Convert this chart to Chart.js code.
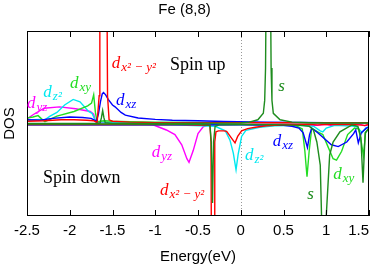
<!DOCTYPE html>
<html>
<head>
<meta charset="utf-8">
<script src="https://cdn.jsdelivr.net/npm/chart.js@4.4.0/dist/chart.umd.min.js"></script>
<style>
  html, body { margin: 0; padding: 0; background: #fff; }
</style>
</head>
<body>
<canvas id="dos" width="374" height="268"></canvas>
<script>
// x axis ticks
const xTickValues = [-2.5, -2, -1.5, -1, -0.5, 0, 0.5, 1, 1.5];
const xTickLabels = ["-2.5", "-2", "-1.5", "-1", "-0.5", "0", "0.5", "1", "1.5"];

// --- spin up (positive DOS) ---
const eUpS = [-2.5, -1.7, -1.645, -1.63, -1.615, -1.6, -1.585, -1.5, -1.0, -0.5, 0, 0.1, 0.2, 0.264, 0.28, 0.29, 0.298, 0.347, 0.355, 0.365, 0.381, 0.46, 0.6, 0.8, 1.0, 1.5];
const upS = [0, 0, 0.005, 0.06, 0.14, 0.06, 0.01, 0, 0, 0.002, 0.005, 0.015, 0.04, 0.11, 0.25, 0.6, 1.6, 1.6, 0.6, 0.25, 0.11, 0.04, 0.015, 0.008, 0.005, 0.005];

const eUpDx2 = [-2.5, -2.3, -2.1, -1.95, -1.8, -1.72, -1.68, -1.656, -1.648, -1.566, -1.558, -1.54, -1.5, -1.3, -1.0, -0.5, 0, 0.5, 1.0, 1.5];
const upDx2 = [0.025, 0.03, 0.04, 0.04, 0.035, 0.03, 0.01, 0.3, 1.6, 1.6, 0.3, 0.04, 0.025, 0.015, 0.01, 0.01, 0.01, 0.008, 0.01, 0.01];

const eUpDxz = [-2.5, -2.35, -2.2, -2.0, -1.85, -1.75, -1.69, -1.665, -1.64, -1.62, -1.605, -1.58, -1.55, -1.5, -1.47, -1.4, -1.35, -1.2, -1.0, -0.8, -0.5, -0.2, 0.3, 0.7, 1.0, 1.5];
const upDxz = [0.04, 0.035, 0.055, 0.07, 0.065, 0.055, 0.025, 0.1, 0.24, 0.32, 0.335, 0.31, 0.26, 0.2, 0.18, 0.12, 0.09, 0.06, 0.045, 0.035, 0.03, 0.022, 0.015, 0.012, 0.01, 0.01];

const eUpDxy = [-2.5, -2.43, -2.37, -2.33, -2.29, -2.15, -1.95, -1.79, -1.745, -1.72, -1.70, -1.68, -1.6, -1.5, -1.3, -1.0, -0.5, 0, 0.5, 1.0, 1.5];
const upDxy = [0.06, 0.07, 0.085, 0.05, 0.02, 0.08, 0.13, 0.19, 0.22, 0.31, 0.12, 0.02, 0.03, 0.025, 0.02, 0.015, 0.012, 0.01, 0.01, 0.01, 0.01];

const eUpDz2 = [-2.5, -2.42, -2.36, -2.3, -2.23, -2.15, -2.06, -1.96, -1.88, -1.78, -1.74, -1.71, -1.68, -1.6, -1.4, -1.0, -0.5, 0, 0.5, 1.0, 1.5];
const upDz2 = [0.03, 0.04, 0.045, 0.035, 0.08, 0.12, 0.2, 0.26, 0.235, 0.13, 0.11, 0.05, 0.02, 0.015, 0.012, 0.01, 0.01, 0.01, 0.01, 0.01, 0.01];

const eUpDyz = [-2.5, -2.42, -2.3, -2.12, -1.93, -1.76, -1.72, -1.7, -1.65, -1.5, -1.0, -0.5, 0, 0.5, 1.0, 1.5];
const upDyz = [0.05, 0.1, 0.165, 0.18, 0.16, 0.13, 0.1, 0.02, 0.01, 0.012, 0.01, 0.01, 0.01, 0.01, 0.01, 0.01];

// --- spin down (negative DOS) ---
const eDnS = [-2.5, -1.5, -0.5, -0.36, -0.345, -0.33, -0.318, -0.30, -0.25, 0, 0.3, 0.5, 0.7, 0.8, 0.85, 0.89, 0.93, 0.945, 0.952, 0.992, 1.0, 1.04, 1.08, 1.16, 1.3, 1.37, 1.405, 1.43, 1.455, 1.5];
const dnS = [-0.005, -0.005, -0.008, -0.02, -0.2, -0.86, -0.2, -0.03, -0.015, -0.012, -0.012, -0.015, -0.02, -0.03, -0.07, -0.2, -0.45, -1.0, -1.6, -1.6, -1.0, -0.34, -0.2, -0.09, -0.016, -0.03, -0.15, -0.64, -0.1, -0.05];

const eDnDx2 = [-2.5, -1.5, -0.8, -0.36, -0.348, -0.342, -0.31, -0.304, -0.29, -0.26, -0.2, -0.165, -0.106, -0.067, -0.036, 0.01, 0.08, 0.17, 0.3, 0.5, 0.8, 0.9, 1.0, 1.3, 1.45, 1.5];
const dnDx2 = [-0.01, -0.01, -0.01, -0.02, -0.2, -1.6, -1.6, -0.2, -0.09, -0.08, -0.08, -0.085, -0.16, -0.21, -0.14, -0.08, -0.055, -0.04, -0.025, -0.015, -0.01, -0.015, -0.01, -0.01, -0.02, -0.01];

const eDnDxz = [-2.5, -1.5, -0.5, 0, 0.5, 0.6, 0.68, 0.73, 0.755, 0.78, 0.805, 0.83, 0.9, 0.95, 1.06, 1.14, 1.24, 1.32, 1.345, 1.375, 1.41, 1.47, 1.5];
const dnDxz = [-0.015, -0.015, -0.015, -0.015, -0.02, -0.03, -0.05, -0.1, -0.18, -0.26, -0.12, -0.05, -0.1, -0.14, -0.23, -0.25, -0.2, -0.11, -0.07, -0.21, -0.1, -0.05, -0.04];

const eDnDxy = [-2.5, -1.5, -0.5, 0, 0.5, 0.65, 0.72, 0.75, 0.775, 0.80, 0.83, 0.9, 0.96, 1.02, 1.08, 1.12, 1.18, 1.25, 1.33, 1.38, 1.41, 1.435, 1.46, 1.5];
const dnDxy = [-0.01, -0.01, -0.01, -0.01, -0.015, -0.025, -0.06, -0.3, -0.575, -0.3, -0.05, -0.09, -0.12, -0.25, -0.38, -0.395, -0.3, -0.12, -0.05, -0.06, -0.2, -0.35, -0.1, -0.05];

const eDnDz2 = [-2.5, -1.5, -0.8, -0.3, -0.18, -0.126, -0.087, -0.055, -0.03, 0.01, 0.06, 0.22, 0.4, 0.7, 0.85, 0.93, 0.96, 1.0, 1.1, 1.35, 1.42, 1.46, 1.5];
const dnDz2 = [-0.01, -0.01, -0.015, -0.03, -0.08, -0.18, -0.32, -0.5, -0.33, -0.14, -0.075, -0.04, -0.025, -0.02, -0.03, -0.08, -0.09, -0.05, -0.02, -0.03, -0.1, -0.05, -0.03];

const eDnDyz = [-2.5, -1.5, -1.1, -1.02, -0.87, -0.77, -0.69, -0.63, -0.605, -0.555, -0.5, -0.44, -0.38, 0, 0.5, 0.7, 0.8, 0.9, 1.0, 1.05, 1.4, 1.45, 1.5];
const dnDyz = [-0.01, -0.01, -0.012, -0.016, -0.07, -0.12, -0.23, -0.38, -0.42, -0.29, -0.11, -0.035, -0.015, -0.01, -0.01, -0.01, -0.02, -0.02, -0.01, -0.02, -0.01, -0.025, -0.01];

const colS = "#1e8c1e";
const colDx2 = "#ff0000";
const colDxz = "#0000ff";
const colDxy = "#22dd22";
const colDz2 = "#00e8f0";
const colDyz = "#ff00ff";

// orbital labels: [energy, dos, main, subscript, colour]
const labels = [
  [-1.509, 0.595, "d", "x\u00b2 \u2212 y\u00b2", colDx2],
  [-1.459, 0.2, "d", "xz", colDxz],
  [-1.997, 0.38, "d", "xy", colDxy],
  [-2.309, 0.29, "d", "z\u00b2", colDz2],
  [-2.5, 0.165, "d", "yz", colDyz],
  [0.44, 0.351, "s", "", colS],
  [-1.042, -0.359, "d", "yz", colDyz],
  [-0.944, -0.773, "d", "x\u00b2 \u2212 y\u00b2", colDx2],
  [0.05, -0.395, "d", "z\u00b2", colDz2],
  [0.374, -0.243, "d", "xz", colDxz],
  [1.082, -0.603, "d", "xy", colDxy],
  [0.778, -0.816, "s", "", colS],
];
const spinText = [
  [-0.827, 0.578, "Spin up"],
  [-2.313, -0.646, "Spin down"],
];

function pts(xs, ys) {
  return xs.map((x, i) => ({ x: x, y: ys[i] }));
}
function line(xs, ys, color) {
  return {
    data: pts(xs, ys),
    borderColor: color,
    borderWidth: 1.4,
    pointRadius: 0,
    tension: 0,
    fill: false,
  };
}

const sans = "'Liberation Sans', Arial, sans-serif";
const serif = "'Liberation Serif', 'Times New Roman', serif";

// frame, inward ticks, dotted zero line and the text labels
const decor = {
  id: "decor",
  beforeDatasetsDraw(chart) {
    const ctx = chart.ctx, a = chart.chartArea;
    const x0 = Math.round(chart.scales.x.getPixelForValue(0)) + 0.5;
    ctx.save();
    ctx.strokeStyle = "#999";
    ctx.lineWidth = 1;
    ctx.setLineDash([1, 2]);
    ctx.beginPath();
    ctx.moveTo(x0, a.top);
    ctx.lineTo(x0, a.bottom);
    ctx.stroke();
    ctx.restore();
  },
  afterDatasetsDraw(chart) {
    const ctx = chart.ctx, a = chart.chartArea;
    const xs = chart.scales.x, ys = chart.scales.y;
    ctx.save();
    ctx.strokeStyle = "#000";
    ctx.lineWidth = 1;
    ctx.strokeRect(a.left + 0.5, a.top + 0.5, a.right - a.left - 1, a.bottom - a.top - 1);
    ctx.beginPath();
    xTickValues.forEach((v) => {
      const px = Math.round(xs.getPixelForValue(v)) + 0.5;
      ctx.moveTo(px, a.top);
      ctx.lineTo(px, a.top + 6);
      ctx.moveTo(px, a.bottom);
      ctx.lineTo(px, a.bottom - 6);
    });
    ctx.stroke();

    ctx.textBaseline = "alphabetic";
    ctx.textAlign = "left";
    labels.forEach(([e, d, main, sub, color]) => {
      const px = xs.getPixelForValue(e), py = ys.getPixelForValue(d);
      ctx.fillStyle = color;
      ctx.font = "italic 17px " + serif;
      ctx.fillText(main, px, py);
      if (sub) {
        const w = ctx.measureText(main).width;
        ctx.font = "italic 13px " + serif;
        ctx.fillText(sub, px + w + 1, py + 3);
      }
    });
    ctx.fillStyle = "#000";
    ctx.font = "18px " + serif;
    spinText.forEach(([e, d, t]) => {
      ctx.fillText(t, xs.getPixelForValue(e), ys.getPixelForValue(d));
    });
    ctx.restore();
  },
};

new Chart(document.getElementById("dos"), {
  type: "line",
  data: {
    datasets: [
      line(eUpS, upS, colS),
      line(eDnS, dnS, colS),
      line(eUpDx2, upDx2, colDx2),
      line(eDnDx2, dnDx2, colDx2),
      line(eUpDxz, upDxz, colDxz),
      line(eDnDxz, dnDxz, colDxz),
      line(eUpDxy, upDxy, colDxy),
      line(eDnDxy, dnDxy, colDxy),
      line(eUpDz2, upDz2, colDz2),
      line(eDnDz2, dnDz2, colDz2),
      line(eUpDyz, upDyz, colDyz),
      line(eDnDyz, dnDyz, colDyz),
    ],
  },
  options: {
    responsive: false,
    animation: false,
    layout: { autoPadding: false, padding: { left: 0, right: 5, top: 0, bottom: 0 } },
    plugins: {
      legend: { display: false },
      tooltip: { enabled: false },
      title: {
        display: true,
        text: "Fe (8,8)",
        color: "#000",
        font: { family: sans, size: 15, weight: "normal" },
        padding: { top: 1, bottom: 12 },
      },
    },
    scales: {
      x: {
        type: "linear",
        min: -2.5,
        max: 1.5,
        afterBuildTicks(s) {
          s.ticks = xTickValues.map((v) => ({ value: v }));
        },
        afterFit(s) {
          s.height = 52;
          s.paddingLeft = 0;
          s.paddingRight = 0;
        },
        ticks: {
          autoSkip: false,
          maxRotation: 0,
          padding: 6,
          color: "#000",
          font: { family: sans, size: 15 },
          callback: (v, i) => (i === xTickLabels.length - 1 ? xTickLabels[i] + "     " : xTickLabels[i]),
        },
        grid: { display: false, drawTicks: false },
        border: { display: false },
        title: {
          display: true,
          text: "Energy(eV)",
          color: "#000",
          font: { family: sans, size: 15 },
          padding: { top: 0, bottom: 2 },
        },
      },
      y: {
        min: -1,
        max: 1,
        afterFit(s) {
          s.width = 27;
          s.paddingTop = 0;
          s.paddingBottom = 0;
        },
        ticks: { display: false },
        grid: { display: false, drawTicks: false },
        border: { display: false },
        title: {
          display: true,
          text: "DOS",
          color: "#000",
          font: { family: sans, size: 15 },
          padding: { top: 1, bottom: 0 },
        },
      },
    },
  },
  plugins: [decor],
});
</script>
</body>
</html>
